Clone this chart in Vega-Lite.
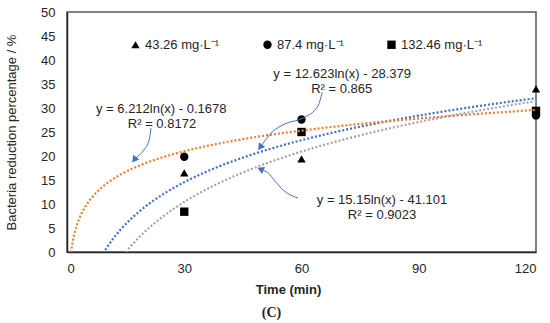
{
  "$schema": "https://vega.github.io/schema/vega-lite/v6.json",
  "width": 469,
  "height": 240,
  "autosize": {"type": "none"},
  "padding": {"left": 67, "top": 12, "right": 14, "bottom": 71},
  "config": {
    "font": "Liberation Sans",
    "view": {"stroke": "#595959", "strokeWidth": 1.5},
    "axis": {"labelFontSize": 13, "labelColor": "#262626", "titleColor": "#262626", "titleFontSize": 13, "grid": false, "ticks": false, "domainColor": "#262626", "domainWidth": 1.5, "labelOverlap": false}
  },
  "title": {"text": "(C)", "orient": "bottom", "font": "Liberation Serif", "fontSize": 14, "fontWeight": "bold", "color": "#262626", "dx": -30, "offset": 10},
  "datasets": {
    "points": [
      {"series": "43.26 mg·L⁻¹", "time": 30, "value": 16.5},
      {"series": "43.26 mg·L⁻¹", "time": 60, "value": 19.4},
      {"series": "43.26 mg·L⁻¹", "time": 120, "value": 34.0},
      {"series": "87.4 mg·L⁻¹", "time": 30, "value": 19.85},
      {"series": "87.4 mg·L⁻¹", "time": 60, "value": 27.6},
      {"series": "87.4 mg·L⁻¹", "time": 120, "value": 28.45},
      {"series": "132.46 mg·L⁻¹", "time": 30, "value": 8.4},
      {"series": "132.46 mg·L⁻¹", "time": 60, "value": 25.0},
      {"series": "132.46 mg·L⁻¹", "time": 120, "value": 29.4}
    ],
    "labels": [
      {"label": "y = 6.212ln(x) - 0.1678", "time": 24.1, "value": 29.8},
      {"label": "R² = 0.8172", "time": 24.3, "value": 26.6},
      {"label": "y = 12.623ln(x) - 28.379", "time": 70.4, "value": 37.1},
      {"label": "R² = 0.865", "time": 70.3, "value": 33.9},
      {"label": "y = 15.15ln(x) - 41.101", "time": 80.6, "value": 10.8},
      {"label": "R² = 0.9023", "time": 80.6, "value": 7.7}
    ],
    "arrows": [
      {"arrow": 1, "i": 0, "time": 21.5, "value": 25.8},
      {"arrow": 1, "i": 1, "time": 21.0, "value": 23.3},
      {"arrow": 1, "i": 2, "time": 19.7, "value": 21.25},
      {"arrow": 1, "i": 3, "time": 18.2, "value": 20.0},
      {"arrow": 1, "i": 4, "time": 17.4, "value": 19.4},
      {"arrow": 2, "i": 0, "time": 65.3, "value": 33.3},
      {"arrow": 2, "i": 1, "time": 64.2, "value": 30.4},
      {"arrow": 2, "i": 2, "time": 60.4, "value": 27.9},
      {"arrow": 2, "i": 3, "time": 55.8, "value": 26.7},
      {"arrow": 2, "i": 4, "time": 52.5, "value": 25.0},
      {"arrow": 2, "i": 5, "time": 50.2, "value": 22.7},
      {"arrow": 2, "i": 6, "time": 49.6, "value": 22.1},
      {"arrow": 3, "i": 0, "time": 59.1, "value": 11.25},
      {"arrow": 3, "i": 1, "time": 55.3, "value": 12.9},
      {"arrow": 3, "i": 2, "time": 53.2, "value": 14.8},
      {"arrow": 3, "i": 3, "time": 51.4, "value": 16.5},
      {"arrow": 3, "i": 4, "time": 49.9, "value": 17.1}
    ],
    "heads": [
      {"arrow": 1, "time": 17.2, "value": 19.2, "angle": 218},
      {"arrow": 2, "time": 49.4, "value": 21.8, "angle": 217},
      {"arrow": 3, "time": 49.5, "value": 17.25, "angle": 294}
    ]
  },
  "encoding": {
    "x": {"field": "time", "type": "quantitative", "scale": {"domain": [0, 120], "nice": false}, "axis": {"values": [0, 30, 60, 90, 120], "tickCount": 20, "title": "Time (min)", "titleFontWeight": "bold", "labelPadding": 10, "titlePadding": 8, "titleX": 221, "labelOverlap": false}},
    "y": {"field": "value", "type": "quantitative", "scale": {"domain": [0, 50], "nice": false}, "axis": {"values": [0, 5, 10, 15, 20, 25, 30, 35, 40, 45, 50], "tickCount": 20, "title": "Bacteria reduction percentage / %", "titleFontWeight": "normal", "labelPadding": 12, "titlePadding": 22, "labelOverlap": false}}
  },
  "layer": [
    {
      "data": {"name": "points"},
      "mark": {"type": "point", "filled": true, "color": "black", "size": 70, "opacity": 1},
      "encoding": {
        "shape": {"field": "series", "type": "nominal", "scale": {"domain": ["43.26 mg·L⁻¹", "87.4 mg·L⁻¹", "132.46 mg·L⁻¹"], "range": ["triangle-up", "circle", "square"]},
          "legend": {"orient": "none", "legendX": 62, "legendY": 26, "direction": "horizontal", "title": null, "labelFontSize": 13, "labelColor": "#262626", "symbolSize": 70, "symbolFillColor": "black", "symbolStrokeWidth": 0, "columnPadding": 41, "labelOffset": 3, "padding": 0}}
      }
    },
    {
      "data": {"name": "points"},
      "transform": [{"regression": "value", "on": "time", "method": "log", "groupby": ["series"], "extent": [1, 120]}],
      "mark": {"type": "line", "strokeDash": [2, 2], "strokeWidth": 2.2, "clip": true},
      "encoding": {
        "color": {"field": "series", "type": "nominal", "scale": {"domain": ["43.26 mg·L⁻¹", "87.4 mg·L⁻¹", "132.46 mg·L⁻¹"], "range": ["#3F6FC4", "#ED7D31", "#A5A5A5"]}, "legend": null}
      }
    },
    {
      "data": {"name": "arrows"},
      "mark": {"type": "line", "color": "#4472C4", "strokeWidth": 1, "interpolate": "monotone"},
      "encoding": {
        "detail": {"field": "arrow"},
        "order": {"field": "i"}
      }
    },
    {
      "data": {"name": "heads"},
      "mark": {"type": "point", "shape": "triangle-up", "filled": true, "color": "#4472C4", "size": 60, "opacity": 1},
      "encoding": {
        "angle": {"field": "angle", "type": "quantitative", "scale": null}
      }
    },
    {
      "data": {"name": "labels"},
      "mark": {"type": "text", "fontSize": 13, "color": "#262626", "baseline": "middle", "align": "center"},
      "encoding": {
        "text": {"field": "label"}
      }
    }
  ]
}
